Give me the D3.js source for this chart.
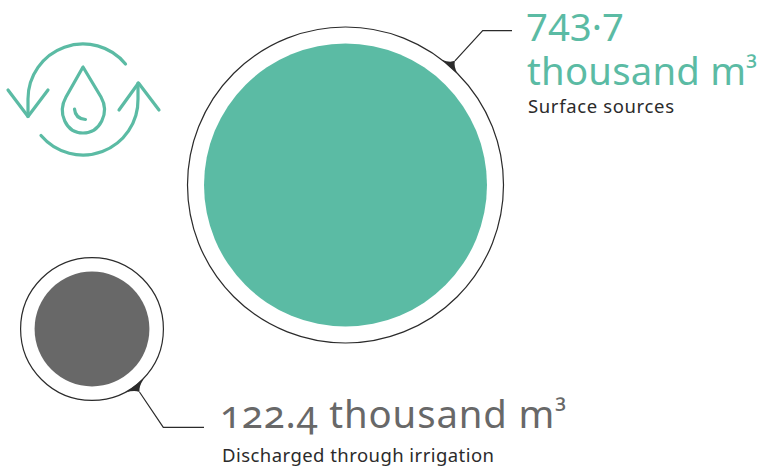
<!DOCTYPE html>
<html>
<head>
<meta charset="utf-8">
<script src="https://cdn.jsdelivr.net/npm/d3@7/dist/d3.min.js"></script>
<style>
  html, body { margin: 0; padding: 0; background: #fff; }
  svg { display: block; }
  text { font-family: "Noto Sans", sans-serif; }
  .oldstyle { font-variant-numeric: oldstyle-nums; font-feature-settings: "onum" 1; }
</style>
</head>
<body>
<svg id="chart" width="760" height="466"></svg>
<script>
const categories = ["Surface sources", "Discharged through irrigation"];
const values = [743.7, 122.4];
const valueLabels = ["743·7", "122.4"];
const unitWord = "thousand m";
const unitPower = "³";
const colours = ["#5bbba4", "#686868"];

const ink = "#2b2b2b";
const teal = colours[0];
const svg = d3.select("#chart");

// Disc area encodes the volume.
const radius = d3.scaleSqrt().domain([0, d3.max(values)]).range([0, 141.5]);

const layout = [
  { cx: 345.5, cy: 185, ringGap: 16.5, tick: { angle: 41.4, spread: 10, elbow: [482.7, 30.7], end: [512, 30.7] } },
  { cx: 92, cy: 329, ringGap: 14, tick: { angle: 143, spread: 11, elbow: [163.3, 427.3], end: [204, 427.3] } }
];

categories.forEach((name, i) => {
  const p = layout[i];
  const r = radius(values[i]);
  const R = r + p.ringGap;
  const g = svg.append("g").attr("class", "bubble");

  g.append("circle").attr("cx", p.cx).attr("cy", p.cy).attr("r", r).attr("fill", colours[i]);
  g.append("circle").attr("cx", p.cx).attr("cy", p.cy).attr("r", R)
    .attr("fill", "none").attr("stroke", ink).attr("stroke-width", 1.2);

  // Leader line leaving the ring, with a flared foot where it touches.
  const a = p.tick.angle * Math.PI / 180;
  const ux = Math.sin(a), uy = -Math.cos(a);
  const tx = -uy, ty = ux;
  const fx = p.cx + ux * R, fy = p.cy + uy * R;
  const tipx = fx + ux * 7.5, tipy = fy + uy * 7.5;
  const s = p.tick.spread;
  const ctrlx = fx + ux * 2.6, ctrly = fy + uy * 2.6;
  const foot = d3.path();
  foot.moveTo(fx - tx * s - ux * 0.3, fy - ty * s - uy * 0.3);
  foot.quadraticCurveTo(ctrlx - tx * 2.6, ctrly - ty * 2.6, tipx, tipy);
  foot.quadraticCurveTo(ctrlx + tx * 2.6, ctrly + ty * 2.6, fx + tx * s - ux * 0.3, fy + ty * s - uy * 0.3);
  foot.closePath();
  g.append("path").attr("d", foot.toString()).attr("fill", ink);

  g.append("path")
    .attr("d", d3.line()([[tipx, tipy], p.tick.elbow, p.tick.end]))
    .attr("fill", "none").attr("stroke", ink).attr("stroke-width", 1.2);
});

// Writes "thousand m³" with a compact raised power.
function appendUnit(sel) {
  sel.append("tspan").text(unitWord);
  sel.append("tspan").attr("font-size", "0.8em").attr("dy", "-0.12em").text(unitPower);
}

// Labels for the large disc.
svg.append("text").attr("x", 526).attr("y", 41).attr("font-size", 38.3)
  .attr("fill", teal).attr("textLength", 98).text(valueLabels[0]);
svg.append("text").attr("x", 527).attr("y", 85).attr("font-size", 38.3)
  .attr("fill", teal).attr("textLength", 230).call(appendUnit);
svg.append("text").attr("x", 528).attr("y", 113).attr("font-size", 18.5)
  .attr("fill", ink).attr("textLength", 146).text(categories[0]);

// Labels for the small disc.
svg.append("text").attr("x", 220).attr("y", 428).attr("font-size", 38.3)
  .attr("fill", colours[1]).attr("class", "oldstyle").attr("textLength", 346)
  .call(t => { t.append("tspan").text(`${valueLabels[1]} `); appendUnit(t); });
svg.append("text").attr("x", 222).attr("y", 462).attr("font-size", 18.5)
  .attr("fill", ink).attr("textLength", 272).text(categories[1]);

// Recycling water-drop icon.
const icon = svg.append("g").attr("fill", "none").attr("stroke", teal)
  .attr("stroke-width", 3.2).attr("stroke-linecap", "round").attr("stroke-linejoin", "round");
icon.append("path").attr("d", "M28,116.5 L28,99 A55,55 0 0 1 125.5,64");
icon.append("path").attr("d", "M41,135.5 A55,55 0 0 0 138,99 L138,83");
icon.append("polyline").attr("points", "8,90 28,116.5 48,90");
icon.append("polyline").attr("points", "119,110 138.5,83 159,110");
icon.append("path").attr("d", "M83,67 L66,97 C57,113 66,133 83,133 C100,133 110,113 101,97 Z");
icon.append("path").attr("d", "M74.5,109 C75,115 79,119 85.5,119.5");
</script>
</body>
</html>
